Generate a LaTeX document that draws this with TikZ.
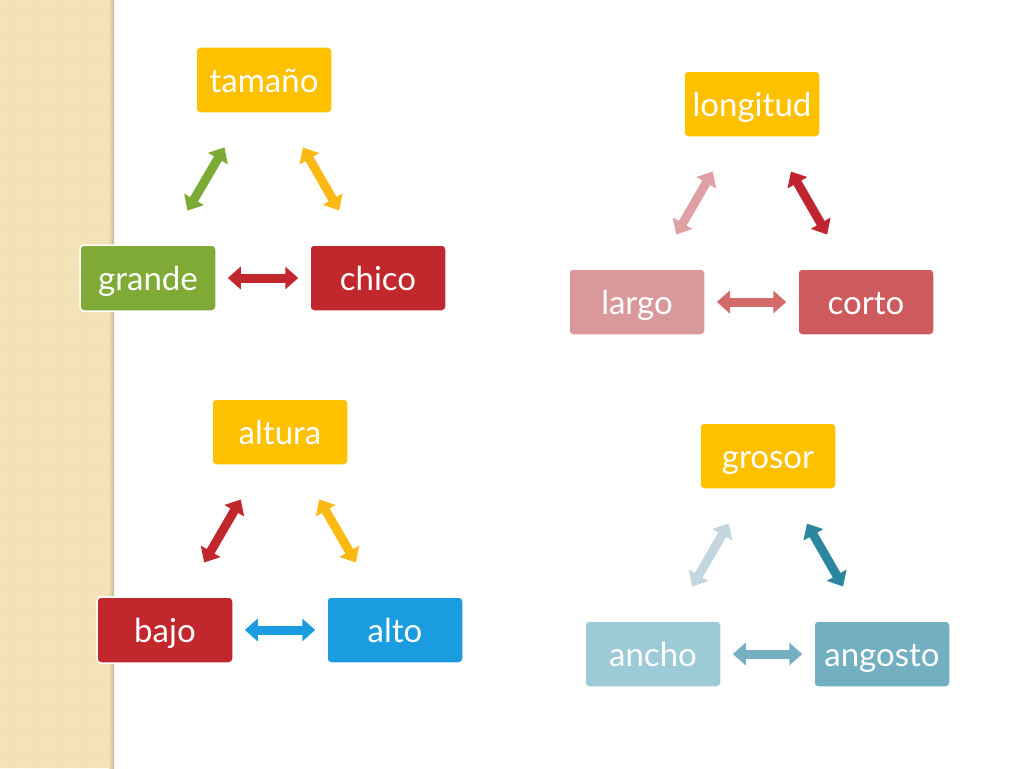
\documentclass[tikz,border=0pt]{standalone}
\usepackage{fontspec}
\setmainfont{Lato}
\usetikzlibrary{arrows.meta,patterns}
\definecolor{strip}{HTML}{F3E1B3}
\definecolor{stripdot}{HTML}{FAEDCD}
\definecolor{stripshadow}{HTML}{C4B696}
\definecolor{cyellow}{HTML}{FFC000}
\definecolor{cgreen}{HTML}{7FAA35}
\definecolor{cred}{HTML}{C1272D}
\definecolor{cpink}{HTML}{D9999B}
\definecolor{ccoral}{HTML}{CD5B5D}
\definecolor{cblue}{HTML}{1C9CE0}
\definecolor{clblue}{HTML}{9DCAD7}
\definecolor{cmblue}{HTML}{72AFC1}
\definecolor{agreen}{HTML}{7BAB35}
\definecolor{ayellow}{HTML}{FDB913}
\definecolor{ared}{HTML}{C1272D}
\definecolor{apink}{HTML}{DFA0A4}
\definecolor{adred}{HTML}{BF2430}
\definecolor{acoral}{HTML}{D26A6C}
\definecolor{ablue}{HTML}{1C9CE0}
\definecolor{alight}{HTML}{C3D5DE}
\definecolor{ateal}{HTML}{2B86A0}
\definecolor{amid}{HTML}{77AFC2}
\begin{document}
\begin{tikzpicture}[x=1pt,y=-1pt,
  box/.style={rounded corners=4pt, minimum width=136pt, minimum height=66pt,
    draw=white, line width=1.5pt, text=white, inner sep=0pt,
    font=\fontsize{33}{38}\selectfont, text height=25pt, text depth=0pt},
  dbl/.style={line width=9pt,
    arrows={Triangle[length=13pt,width=22pt]-Triangle[length=13pt,width=22pt]}},
  diag/.style={dbl, shorten <=39pt, shorten >=39pt},
  horiz/.style={dbl, shorten <=11pt, shorten >=11pt}]
\useasboundingbox (0,0) rectangle (1024,768);
\fill[white] (0,0) rectangle (1024,768);
% decorative strip
\fill[strip] (0,0) rectangle (113,768);
\fill[pattern=crosshatch dots, pattern color=stripdot] (0,0) rectangle (113,768);
\shade[left color=strip, right color=stripshadow] (109,0) rectangle (114,768);
% group 1
\node[box, fill=cyellow] (tam) at (264,80) {tamaño};
\node[box, fill=cgreen] (gra) at (148,278) {grande};
\node[box, fill=cred] (chi) at (378,278) {chico};
\draw[diag, agreen] (tam) -- (gra);
\draw[diag, ayellow] (tam) -- (chi);
\draw[horiz, ared] (gra) -- (chi);
% group 2
\node[box, fill=cyellow] (lon) at (752,104) {longitud};
\node[box, fill=cpink] (lar) at (637,302) {largo};
\node[box, fill=ccoral] (cor) at (866,302) {corto};
\draw[diag, apink] (lon) -- (lar);
\draw[diag, adred] (lon) -- (cor);
\draw[horiz, acoral] (lar) -- (cor);
% group 3
\node[box, fill=cyellow] (alu) at (280,432) {altura};
\node[box, fill=cred] (baj) at (165,630) {bajo};
\node[box, fill=cblue] (alt) at (395,630) {alto};
\draw[diag, ared] (alu) -- (baj);
\draw[diag, ayellow] (alu) -- (alt);
\draw[horiz, ablue] (baj) -- (alt);
% group 4
\node[box, fill=cyellow] (gro) at (768,456) {grosor};
\node[box, fill=clblue] (anc) at (653,654) {ancho};
\node[box, fill=cmblue] (ang) at (882,654) {angosto};
\draw[diag, alight] (gro) -- (anc);
\draw[diag, ateal] (gro) -- (ang);
\draw[horiz, amid] (anc) -- (ang);
\end{tikzpicture}
\end{document}
